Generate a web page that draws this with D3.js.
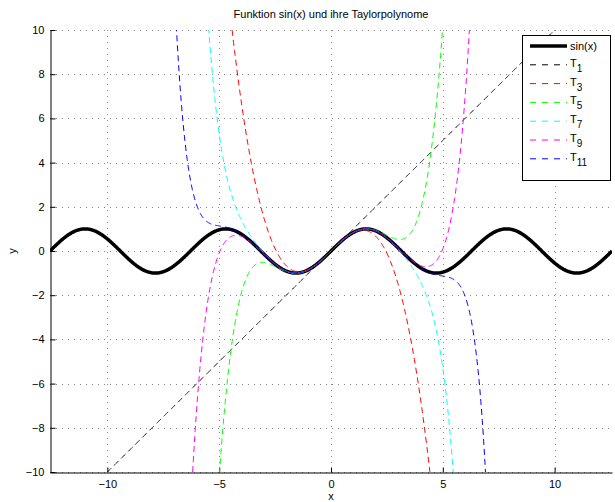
<!DOCTYPE html>
<html>
<head>
<meta charset="utf-8">
<script src="https://cdn.jsdelivr.net/npm/d3@7"></script>
<style>
  body { margin:0; background:#fff; }
  text { font-family: "Liberation Sans", Arial, sans-serif; }
</style>
</head>
<body>
<svg id="chart" width="615" height="502"></svg>
<script>
// series: Taylor degree, colour, coefficients (odd powers x^1, x^3, ...)
var degrees = [1, 3, 5, 7, 9, 11];
var colors = ["#000000", "#ff0000", "#00ff00", "#00ffff", "#ff00ff", "#0000ff"];
var coeffs = [1, -1/6, 1/120, -1/5040, 1/362880, -1/39916800];
var xTicks = [-10, -5, 0, 5, 10];
var yTicks = [-10, -8, -6, -4, -2, 0, 2, 4, 6, 8, 10];
var xDomain = [-4*Math.PI, 4*Math.PI];
var yDomain = [-10, 10];

var svg = d3.select("#chart");
var m = {left:50, top:30, right:3, bottom:30};
var W = 615, H = 502;

var x = d3.scaleLinear().domain(xDomain).range([m.left, W-m.right]);
var y = d3.scaleLinear().domain(yDomain).range([H-m.bottom, m.top]);

// sample points along x
var xs = d3.range(0, 1201).map(function(i){ return xDomain[0] + (xDomain[1]-xDomain[0])*i/1200; });

function taylor(deg, v){
  var s = 0;
  for(var k=0; 2*k+1<=deg; k++) s += coeffs[k]*Math.pow(v, 2*k+1);
  return s;
}

svg.append("defs").append("clipPath").attr("id","clip")
  .append("rect").attr("x",m.left).attr("y",m.top)
  .attr("width",W-m.right-m.left).attr("height",H-m.bottom-m.top);

// grid
var grid = svg.append("g").attr("stroke","#888").attr("stroke-width",1)
  .attr("stroke-dasharray","1,5");
xTicks.forEach(function(t){
  grid.append("line").attr("x1",Math.round(x(t))+0.5).attr("x2",Math.round(x(t))+0.5)
    .attr("y1",m.top).attr("y2",H-m.bottom);
});
yTicks.forEach(function(t){
  grid.append("line").attr("y1",Math.round(y(t))+0.5).attr("y2",Math.round(y(t))+0.5)
    .attr("x1",m.left).attr("x2",W-m.right);
});

// axes
var xAxis = d3.axisBottom(x).tickValues(xTicks).tickSizeInner(-5).tickSizeOuter(0)
  .tickPadding(8).tickFormat(function(d){ return d<0 ? "\u2212"+(-d) : d; });
var gx = svg.append("g").attr("transform","translate(0,"+(H-m.bottom+0.5)+")").call(xAxis);
var yAxis = d3.axisLeft(y).tickValues(yTicks).tickSizeInner(-5).tickSizeOuter(0)
  .tickPadding(6).tickFormat(function(d){ return d<0 ? "\u2212"+(-d) : d; });
var gy = svg.append("g").attr("transform","translate("+(m.left+0.5)+",0)").call(yAxis);
[gx, gy].forEach(function(g){
  g.selectAll("text").attr("font-size",11).attr("fill","#000")
    .attr("font-family","Liberation Sans, Arial, sans-serif");
  g.select(".domain").attr("stroke","#000");
  g.selectAll(".tick line").attr("stroke","#000");
});

// lines
var line = d3.line().x(function(d){ return x(d[0]); })
  .y(function(d){ return y(Math.max(-30, Math.min(30, d[1]))); });
var plot = svg.append("g").attr("clip-path","url(#clip)");

plot.append("path")
  .datum(xs.map(function(v){ return [v, Math.sin(v)]; }))
  .attr("d", line).attr("fill","none").attr("stroke","#000").attr("stroke-width",3.5);

degrees.forEach(function(deg, i){
  plot.append("path")
    .datum(xs.map(function(v){ return [v, taylor(deg, v)]; }))
    .attr("d", line).attr("fill","none").attr("stroke",colors[i])
    .attr("stroke-width",1).attr("stroke-dasharray","6,4");
});

// title and labels
svg.append("text").attr("x",(m.left+W-m.right)/2).attr("y",18).attr("text-anchor","middle")
  .attr("font-size",11).text("Funktion sin(x) und ihre Taylorpolynome");
svg.append("text").attr("x",(m.left+W-m.right)/2).attr("y",500).attr("text-anchor","middle")
  .attr("font-size",11).text("x");
svg.append("text").attr("transform","translate(16,"+((m.top+H-m.bottom)/2)+") rotate(-90)")
  .attr("text-anchor","middle").attr("font-size",11).text("y");

// legend
var lg = svg.append("g");
lg.append("rect").attr("x",522.5).attr("y",35.5).attr("width",88).attr("height",145)
  .attr("fill","#fff").attr("stroke","#000");
var ly0 = 46, ldy = 18.8;
lg.append("line").attr("x1",530).attr("x2",567).attr("y1",ly0).attr("y2",ly0)
  .attr("stroke","#000").attr("stroke-width",3.5);
lg.append("text").attr("x",570).attr("y",ly0+4).attr("font-size",11).text("sin(x)");
degrees.forEach(function(deg, i){
  var yy = ly0 + ldy*(i+1);
  lg.append("line").attr("x1",530).attr("x2",567).attr("y1",yy).attr("y2",yy)
    .attr("stroke",colors[i]).attr("stroke-width",1).attr("stroke-dasharray","6,6");
  var t = lg.append("text").attr("x",570).attr("y",yy+2).attr("font-size",11);
  t.append("tspan").text("T");
  t.append("tspan").attr("dy",5).attr("font-size",10).text(deg);
});
</script>
</body>
</html>
